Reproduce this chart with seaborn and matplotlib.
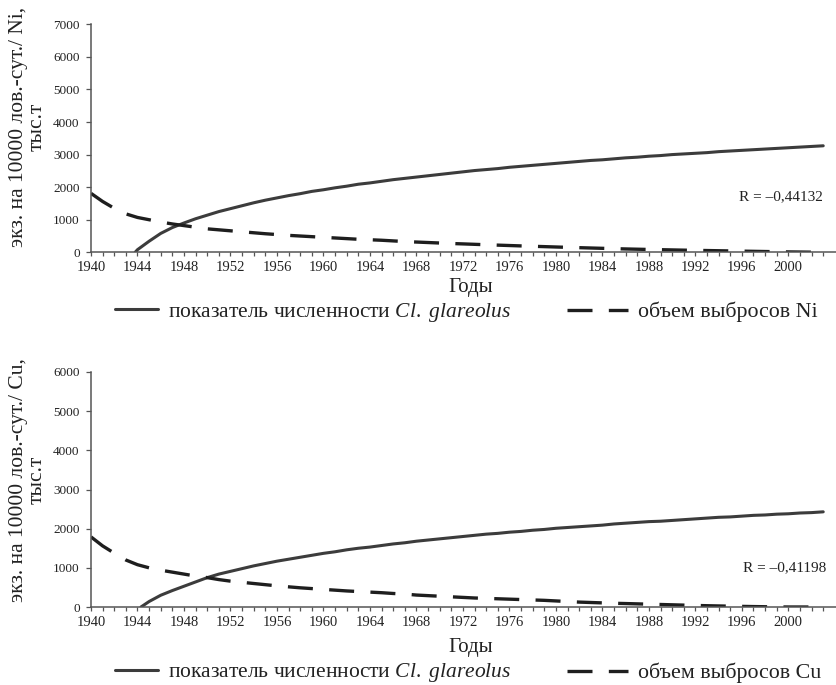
import numpy as np
import pandas as pd
import seaborn as sns
import matplotlib
matplotlib.use("Agg")
import matplotlib.pyplot as plt
from matplotlib.lines import Line2D

# ---------------- data ----------------
years = list(range(1940, 2004))

ni_abund_years = [1943.8] + list(range(1944, 2004))
ni_abund = [0,
            80, 340, 580, 760, 900, 1030, 1140, 1250, 1340, 1430,
            1520, 1600, 1670, 1740, 1800, 1870, 1920, 1980, 2030, 2090,
            2130, 2180, 2230, 2270, 2310, 2350, 2390, 2430, 2470, 2510,
            2540, 2570, 2610, 2640, 2670, 2700, 2730, 2760, 2790, 2820,
            2840, 2870, 2900, 2920, 2950, 2970, 3000, 3020, 3040, 3060,
            3090, 3110, 3130, 3150, 3170, 3190, 3210, 3230, 3250, 3270]

ni_emission = [1810, 1560, 1350, 1180, 1070, 1000, 930, 870, 820, 770,
               720, 690, 660, 630, 600, 570, 545, 520, 500, 480,
               460, 440, 420, 400, 385, 370, 350, 330, 315, 300,
               285, 270, 258, 245, 232, 220, 208, 196, 185, 174,
               163, 152, 142, 132, 122, 112, 103, 95, 87, 80,
               73, 66, 60, 54, 48, 42, 36, 30, 24, 18,
               12, 8, 4, 0]

cu_abund_years = [1944.3] + list(range(1945, 2004))
cu_abund = [0, 140, 300, 420, 530, 640, 750, 840, 910, 980,
            1050, 1110, 1170, 1220, 1270, 1320, 1370, 1410, 1460, 1500,
            1530, 1570, 1610, 1640, 1680, 1710, 1740, 1770, 1800, 1830,
            1860, 1880, 1910, 1930, 1960, 1980, 2010, 2030, 2050, 2070,
            2090, 2120, 2140, 2160, 2180, 2190, 2210, 2230, 2250, 2270,
            2290, 2300, 2320, 2340, 2350, 2370, 2380, 2400, 2410, 2430]

cu_emission = [1790, 1560, 1375, 1200, 1080, 1000, 940, 890, 840, 790,
               750, 700, 660, 630, 600, 570, 540, 515, 490, 470,
               450, 430, 410, 395, 380, 365, 345, 330, 305, 290,
               275, 260, 245, 230, 220, 210, 200, 190, 180, 170,
               155, 140, 125, 115, 105, 95, 88, 80, 72, 64,
               56, 48, 40, 33, 27, 21, 16, 11, 7, 3,
               0, 0, 0, 0]

x_label = "Годы"
abund_label = "показатель численности $\\mathit{Cl.\\ glareolus}$"
ylabels = ["экз. на 10000 лов.-сут./ Ni,\nтыс.т", "экз. на 10000 лов.-сут./ Cu,\nтыс.т"]
em_labels = ["объем выбросов Ni", "объем выбросов Cu"]
r_texts = ["R = \u20130,44132", "R = \u20130,41198"]
r_pos = [(2003.0, 1700), (2003.3, 1000)]
ymaxes = [7000, 6000]

# ---------------- style ----------------
sns.set_theme(style="ticks")
plt.rcParams["font.family"] = ["Liberation Serif", "DejaVu Serif"]
plt.rcParams["mathtext.fontset"] = "custom"
plt.rcParams["mathtext.rm"] = "Liberation Serif"
plt.rcParams["mathtext.it"] = "Liberation Serif:italic"

SOLID = "#3c3c3c"
DASH = "#1e1e1e"
AXC = "#555555"
TXT = "#222222"
dash_pat = (0, (7.5, 4.9))

W, H = 837, 685
fig = plt.figure(figsize=(W / 100, H / 100), dpi=100)

panels = [
    dict(rect=[91 / W, 1 - 252.3 / H, 745 / W, 228 / H], ab_x=ni_abund_years, ab=ni_abund,
         em=ni_emission, xlab_y=-0.173, leg_y=1 - 312 / H, ylab_y=0.55),
    dict(rect=[91 / W, 1 - 607 / H, 745 / W, 235 / H], ab_x=cu_abund_years, ab=cu_abund,
         em=cu_emission, xlab_y=-0.19, leg_y=1 - 673 / H, ylab_y=0.54),
]

for i, p in enumerate(panels):
    ax = fig.add_axes(p["rect"])
    df_ab = pd.DataFrame({"year": p["ab_x"], "value": p["ab"]})
    df_em = pd.DataFrame({"year": years, "value": p["em"]})
    sns.lineplot(data=df_ab, x="year", y="value", ax=ax, color=SOLID, linewidth=2.2,
                 estimator=None, sort=False, legend=False)
    sns.lineplot(data=df_em, x="year", y="value", ax=ax, color=DASH, linewidth=2.4,
                 linestyle=dash_pat, estimator=None, sort=False, legend=False)

    ax.set_xlim(1940, 2004.1)
    ax.set_ylim(0, ymaxes[i])
    ax.set_xticks(np.arange(1940, 2001, 4))
    ax.set_xticks(np.arange(1940, 2004, 1), minor=True)
    ax.set_yticks(np.arange(0, ymaxes[i] + 1, 1000))
    ax.tick_params(axis="x", which="both", direction="out", length=3.2, width=0.9,
                   color=AXC, labelsize=10.5, labelcolor=TXT, pad=3)
    ax.tick_params(axis="y", which="major", direction="out", length=3.6, width=0.9,
                   color=AXC, labelsize=9.5, labelcolor=TXT, pad=4.5)
    sns.despine(ax=ax)
    for s in ("left", "bottom"):
        ax.spines[s].set_color(AXC)
        ax.spines[s].set_linewidth(1.1)
    ax.grid(False)

    ax.set_xlabel(x_label, fontsize=15, color=TXT, va="baseline")
    ax.xaxis.set_label_coords(0.509, p["xlab_y"])
    ax.set_ylabel(ylabels[i], fontsize=15.5, color=TXT, linespacing=0.95)
    ax.yaxis.label.set_va("center")
    ax.yaxis.set_label_coords(-0.0852, p["ylab_y"])

    ax.text(r_pos[i][0], r_pos[i][1], r_texts[i], ha="right", va="center",
            fontsize=11, color=TXT)

    h1 = Line2D([], [], color=SOLID, linewidth=2.2)
    h2 = Line2D([], [], color=DASH, linewidth=2.4, linestyle=dash_pat)
    leg1 = fig.legend([h1], [abund_label], loc="center left",
                      bbox_to_anchor=(115 / W, p["leg_y"]), frameon=False,
                      fontsize=15.5, handlelength=2.0, handletextpad=0.47,
                      borderpad=0, borderaxespad=0, labelcolor=TXT)
    leg2 = fig.legend([h2], [em_labels[i]], loc="center left",
                      bbox_to_anchor=(567 / W, p["leg_y"]), frameon=False,
                      fontsize=15.8, handlelength=2.8, handletextpad=0.42,
                      borderpad=0, borderaxespad=0, labelcolor=TXT)

fig.savefig("out.png", dpi=100)
